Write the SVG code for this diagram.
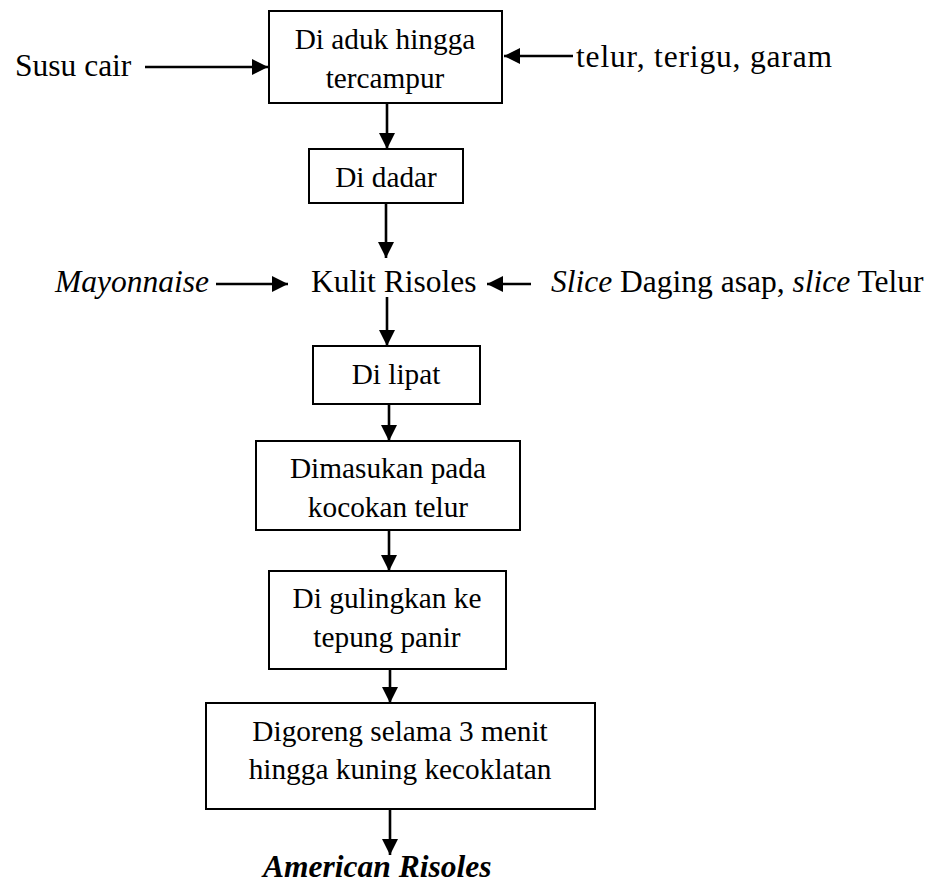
<svg xmlns="http://www.w3.org/2000/svg" width="942" height="886" viewBox="0 0 942 886">
  <style>
    .box { fill: #ffffff; stroke: #000000; stroke-width: 2; }
    .conn { stroke: #000000; stroke-width: 2.6; fill: none; marker-end: url(#head); }
    .t { font-family: "Liberation Serif", "Times New Roman", Times, serif; fill: #000000; }
    .inbox { font-size: 29.3px; text-anchor: middle; }
    .side { font-size: 31.5px; }
    .it { font-style: italic; }
  </style>
  <defs>
    <marker id="head" viewBox="0 0 16 16" refX="16" refY="8" markerWidth="16" markerHeight="16" markerUnits="userSpaceOnUse" orient="auto">
      <path d="M0,0 L16,8 L0,16 z" fill="#000000"/>
    </marker>
  </defs>
  <rect width="942" height="886" fill="#ffffff"/>

  <!-- connectors -->
  <g id="connectors">
    <line class="conn" x1="145" y1="67" x2="268" y2="67"/>
    <line class="conn" x1="573" y1="56" x2="504" y2="56"/>
    <line class="conn" x1="387" y1="103" x2="387" y2="149"/>
    <line class="conn" x1="386" y1="203" x2="386" y2="258"/>
    <line class="conn" x1="216" y1="284" x2="288" y2="284"/>
    <line class="conn" x1="531" y1="284" x2="487" y2="284"/>
    <line class="conn" x1="387" y1="297" x2="387" y2="346"/>
    <line class="conn" x1="389" y1="404" x2="389" y2="441"/>
    <line class="conn" x1="389" y1="530" x2="389" y2="571"/>
    <line class="conn" x1="390" y1="669" x2="390" y2="703"/>
    <line class="conn" x1="390" y1="809" x2="390" y2="855"/>
  </g>

  <!-- inputs -->
  <g id="susu-cair">
    <text class="t side" x="15" y="76">Susu cair</text>
  </g>
  <g id="telur-terigu-garam">
    <text class="t side" x="576" y="67" textLength="256" lengthAdjust="spacing">telur, terigu, garam</text>
  </g>

  <!-- step 1 -->
  <g id="diaduk">
    <rect class="box" x="269" y="11" width="233" height="92"/>
    <text class="t inbox" x="385" y="49">Di aduk hingga</text>
    <text class="t inbox" x="385" y="88">tercampur</text>
  </g>

  <!-- step 2 -->
  <g id="didadar">
    <rect class="box" x="309" y="149" width="154" height="54"/>
    <text class="t inbox" x="386" y="187">Di dadar</text>
  </g>

  <!-- wrapper with fillings -->
  <g id="mayonnaise">
    <text class="t side it" x="55" y="292">Mayonnaise</text>
  </g>
  <g id="kulit-risoles">
    <text class="t side" x="311" y="292">Kulit Risoles</text>
  </g>
  <g id="slice">
    <text class="t side" x="551" y="292"><tspan class="it">Slice</tspan> Daging asap, <tspan class="it">slice</tspan> Telur</text>
  </g>

  <!-- step 3 -->
  <g id="dilipat">
    <rect class="box" x="313" y="346" width="167" height="58"/>
    <text class="t inbox" x="396" y="384">Di lipat</text>
  </g>

  <!-- step 4 -->
  <g id="dimasukan">
    <rect class="box" x="256" y="441" width="264" height="89"/>
    <text class="t inbox" x="388" y="478">Dimasukan pada</text>
    <text class="t inbox" x="388" y="517">kocokan telur</text>
  </g>

  <!-- step 5 -->
  <g id="digulingkan">
    <rect class="box" x="269" y="571" width="237" height="98"/>
    <text class="t inbox" x="387" y="608">Di gulingkan ke</text>
    <text class="t inbox" x="387" y="647">tepung panir</text>
  </g>

  <!-- step 6 -->
  <g id="digoreng">
    <rect class="box" x="206" y="703" width="389" height="106"/>
    <text class="t inbox" x="400" y="741">Digoreng selama 3 menit</text>
    <text class="t inbox" x="400" y="779">hingga kuning kecoklatan</text>
  </g>

  <!-- product -->
  <g id="american-risoles">
    <text class="t side it" x="263" y="877" font-weight="bold">American Risoles</text>
  </g>
</svg>
